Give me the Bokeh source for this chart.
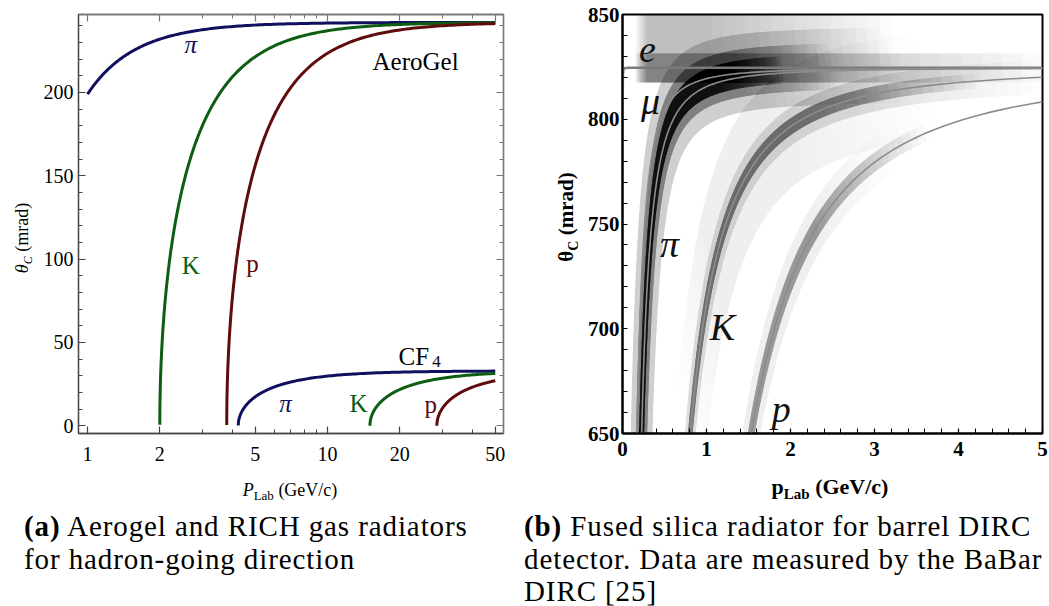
import numpy as np
from bokeh.plotting import figure
from bokeh.models import FixedTicker, LogAxis, LinearAxis, Label, Div
from bokeh.layouts import row, column
from bokeh.embed import file_html
from bokeh.resources import INLINE

# ---------------------------------------------------------------- data
# particle masses (GeV/c^2)
particles = ["e", "mu", "pi", "K", "p"]
masses = {"e": 0.000511, "mu": 0.10566, "pi": 0.13957, "K": 0.49368, "p": 0.93827}

# refractive indices of the radiators
n_aerogel = 1.030
n_cf4 = 1.00054
n_silica = 1.473

# panel (a): hadron species drawn for each radiator, start momentum (GeV/c)
aerogel_species = ["pi", "K", "p"]
aerogel_pmin = [1.0, None, None]          # None -> start at threshold
cf4_species = ["pi", "K", "p"]
p_max_a = 50.0

# panel (b): species curves and the spread of the measured photon angles
dirc_species = ["e", "mu", "pi", "K", "p"]
p_max_b = 5.0
# each band: species curve it follows, momentum span, half-width in p and in theta
# (below / above the curve), peak density of the measured points and the
# fractions of the span over which that density builds up / dies away
band_species = ["pi", "pi", "pi", "K", "K", "K", "p", "p", "e", "e"]
band_pmin = [0.20, 0.20, 0.18, 0.78, 0.75, 0.80, 1.50, 1.50, 0.15, 0.15]
band_pmax = [1.90, 2.50, 3.20, 4.20, 5.00, 3.60, 3.60, 3.20, 5.00, 3.20]
band_dp = [0.025, 0.06, 0.12, 0.02, 0.05, 0.15, 0.025, 0.07, 0.0, 0.0]
band_dth_lo = [5, 9, 16, 3.5, 8, 25, 4, 10, 7, 7]
band_dth_hi = [8, 13, 20, 3.5, 8, 25, 4, 10, 7, 26]
band_density = [0.88, 0.40, 0.16, 0.45, 0.10, 0.04, 0.30, 0.07, 0.25, 0.22]
band_fade_in = [0.0, 0.0, 0.0, 0.0, 0.0, 0.10, 0.0, 0.0, 0.03, 0.05]
band_fade_out = [0.45, 0.50, 0.55, 0.60, 0.55, 0.60, 0.65, 0.55, 0.80, 0.75]

# ---------------------------------------------------------------- helpers
def cherenkov_mrad(p, m, n):
    """Cherenkov angle from cos(theta) = 1 / (n beta), in mrad."""
    beta = p / np.sqrt(p ** 2 + m ** 2)
    c = np.clip(1.0 / (n * beta), -1.0, 1.0)
    return 1000.0 * np.arccos(c)


def threshold(m, n):
    return m / np.sqrt(n ** 2 - 1.0)


def momenta(p0, p1, num=500):
    # dense sampling next to the start so the threshold rise stays smooth
    t = np.geomspace(1e-7, 1.0, num)
    return p0 + (p1 - p0) * t


NAVY = "#10105e"
GREEN = "#0d5e12"
MAROON = "#5e0c0c"
species_color = {"pi": NAVY, "K": GREEN, "p": MAROON}
SERIF = "Liberation Serif"


def frame_axis(ax, major, minor, color, size, bold, standoff, tick_in, minor_in, show_labels=True):
    ax.ticker = FixedTicker(ticks=major, minor_ticks=minor)
    ax.axis_line_color = color
    ax.axis_line_width = 1.3
    ax.major_tick_line_color = color
    ax.minor_tick_line_color = color
    ax.major_tick_in = tick_in
    ax.major_tick_out = 0
    ax.minor_tick_in = minor_in
    ax.minor_tick_out = 0
    ax.major_tick_line_width = 1.2
    ax.minor_tick_line_width = 1.0
    ax.axis_label = None
    if show_labels:
        ax.major_label_text_font = SERIF
        ax.major_label_text_font_size = size
        ax.major_label_text_font_style = "bold" if bold else "normal"
        ax.major_label_text_color = "black"
        ax.major_label_standoff = standoff
    else:
        # tick marks only on the opposite frame edges
        ax.major_label_overrides = {t: "" for t in major}
        ax.major_label_text_font_size = "1px"
        ax.major_label_standoff = 0


# ---------------------------------------------------------------- panel (a)
pa = figure(width=480, height=478, x_axis_type="log",
            x_range=(0.917, 54.1), y_range=(-4.7, 246.7),
            output_backend="svg", toolbar_location=None,
            min_border_left=38, min_border_right=17,
            min_border_top=14, min_border_bottom=39)
pa.grid.visible = False
pa.outline_line_color = "#555555"
pa.outline_line_width = 1.3

for sp, pmin in zip(aerogel_species, aerogel_pmin):
    m = masses[sp]
    start = pmin if pmin is not None else threshold(m, n_aerogel)
    pp = momenta(start, p_max_a)
    pa.line(pp, cherenkov_mrad(pp, m, n_aerogel), line_color=species_color[sp], line_width=3)

for sp in cf4_species:
    m = masses[sp]
    pp = momenta(threshold(m, n_cf4), p_max_a)
    pa.line(pp, cherenkov_mrad(pp, m, n_cf4), line_color=species_color[sp], line_width=3)

xa_major = [1, 2, 5, 10, 20, 50]
xa_minor = [3, 4, 6, 7, 8, 9, 30, 40]
ya_major = [0, 50, 100, 150, 200]
ya_minor = [v for v in range(0, 250, 10) if v % 50]

frame_axis(pa.xaxis[0], xa_major, xa_minor, "#444444", "20px", False, 13, 7, 4)
frame_axis(pa.yaxis[0], ya_major, ya_minor, "#444444", "20px", False, 5, 7, 4)
top_ax = LogAxis()
frame_axis(top_ax, xa_major, xa_minor, "#777777", "1px", False, 0, 7, 4, show_labels=False)
pa.add_layout(top_ax, "above")
right_ax = LinearAxis()
frame_axis(right_ax, ya_major, ya_minor, "#777777", "1px", False, 0, 7, 4, show_labels=False)
pa.add_layout(right_ax, "right")

# curve annotations, panel (a)
a_labels = [
    ("π", 2.69, 228.5, NAVY, "italic", "center"),
    ("AeroGel", 15.4, 218.7, "black", "normal", "left"),
    ("K", 2.69, 96.3, GREEN, "normal", "center"),
    ("p", 4.87, 97.3, MAROON, "normal", "center"),
    ("CF", 19.77, 41.5, "black", "normal", "left"),
    ("π", 6.68, 13.4, NAVY, "italic", "center"),
    ("K", 13.46, 13.6, GREEN, "normal", "center"),
    ("p", 26.9, 12.8, MAROON, "normal", "center"),
]
for txt, x, y, col, style, align in a_labels:
    pa.add_layout(Label(x=x, y=y, text=txt, text_color=col, text_font=SERIF,
                        text_font_size="25px", text_font_style=style,
                        text_align=align, text_baseline="alphabetic"))
pa.add_layout(Label(x=27.3, y=38.5, text="4", text_color="black", text_font=SERIF,
                    text_font_size="17px", text_align="left", text_baseline="alphabetic"))

# ---------------------------------------------------------------- panel (b)
pb = figure(width=469, height=478, x_range=(0, 5), y_range=(650, 850),
            output_backend="svg", toolbar_location=None,
            min_border_left=42, min_border_right=7,
            min_border_top=13, min_border_bottom=45)
pb.grid.visible = False
pb.outline_line_color = "black"
pb.outline_line_width = 2

# measured photon angles: each band is stacked from nested layers whose ends are
# staggered, so its density rises and falls off smoothly along the momentum
N_LAYERS = 16
for sp, p0, p1, dp, lo, hi, dens, f_in, f_out in zip(
        band_species, band_pmin, band_pmax, band_dp, band_dth_lo, band_dth_hi,
        band_density, band_fade_in, band_fade_out):
    m = masses[sp]
    start = max(p0, threshold(m, n_silica) * 1.0001)
    span = p1 - start
    p_full = p1 - f_out * span
    layer_alpha = 1.0 - (1.0 - dens) ** (1.0 / N_LAYERS)
    for k in range(N_LAYERS):
        p_begin = start + f_in * span * k / N_LAYERS
        p_end = p_full + (p1 - p_full) * (k + 1) / N_LAYERS
        pp = np.linspace(p_begin, p_end, 240)
        th = cherenkov_mrad(pp, m, n_silica)
        xs = np.concatenate([pp - dp, (pp + dp)[::-1]])
        ys = np.concatenate([th + hi, (th - lo)[::-1]])
        pb.patch(xs, ys, fill_color="#141414", fill_alpha=layer_alpha, line_alpha=0)

for sp in dirc_species:
    m = masses[sp]
    pp = momenta(max(threshold(m, n_silica), 0.002), p_max_b)
    th = cherenkov_mrad(pp, m, n_silica)
    if sp == "e":
        pb.line(pp, th, line_color="#7a7a7a", line_width=2.5)
    else:
        pb.line(pp, th, line_color="#8c8c8c", line_width=1.6)

xb_major = [0, 1, 2, 3, 4, 5]
xb_minor = [round(0.2 * i, 1) for i in range(26) if i % 5]
yb_major = [650, 700, 750, 800, 850]
yb_minor = [v for v in range(650, 851, 10) if v % 50]
frame_axis(pb.xaxis[0], xb_major, xb_minor, "black", "21px", True, 8, 5, 5)
frame_axis(pb.yaxis[0], yb_major, yb_minor, "black", "21px", True, 3, 5, 5)
pb.xaxis[0].axis_line_width = 2
pb.yaxis[0].axis_line_width = 2

b_labels = [
    ("e", 0.298, 833.3),
    ("μ", 0.333, 808.7),
    ("π", 0.56, 740.5),
    ("K", 1.19, 700.9),
    ("p", 1.89, 661.9),
]
for txt, x, y in b_labels:
    pb.add_layout(Label(x=x, y=y, text=txt, text_color="#111111", text_font=SERIF,
                        text_font_size="38px", text_font_style="italic",
                        text_align="center", text_baseline="alphabetic"))

# ---------------------------------------------------------------- axis titles and captions
FONT = "font-family:'Liberation Serif',serif;color:black;"


def vtitle(width, height, cx, cy, html, size, weight):
    return Div(width=width, height=height, margin=0, text=(
        f'<div style="position:relative;width:{width}px;height:{height}px;">'
        f'<div style="position:absolute;left:{cx}px;top:{cy}px;white-space:nowrap;'
        f'{FONT}font-size:{size}px;font-weight:{weight};line-height:1;'
        f'transform:translate(-50%,-50%) rotate(-90deg);">{html}</div></div>'))


ytitle_a = vtitle(40, 478, 22, 238,
                  '<i>θ</i><span style="font-size:12px;position:relative;top:4px;"><i>C</i></span> (mrad)',
                  18, "normal")
ytitle_b = vtitle(60, 478, 46, 217,
                  'θ<span style="font-size:14px;position:relative;top:5px;">C</span> (mrad)',
                  21, "bold")


def bottom_block(width, title_cx, title_cy, title_html, title_size, title_weight,
                 cap_left, cap_top, cap_html):
    return Div(width=width, height=128, margin=0, text=(
        f'<div style="position:relative;width:{width}px;height:128px;">'
        f'<div style="position:absolute;left:{title_cx}px;top:{title_cy}px;white-space:nowrap;'
        f'{FONT}font-size:{title_size}px;font-weight:{title_weight};line-height:1;'
        f'transform:translate(-50%,-50%);">{title_html}</div>'
        f'<div style="position:absolute;left:{cap_left}px;top:{cap_top}px;white-space:nowrap;'
        f'{FONT}font-size:29px;line-height:32.5px;letter-spacing:0.9px;">{cap_html}</div>'
        f'</div>'))


xtitle_a_html = ('<i>P</i><span style="font-size:13px;position:relative;top:4px;">Lab</span>'
                 ' (GeV/c)')
xtitle_b_html = ('p<span style="font-size:15px;position:relative;top:5px;">Lab</span>'
                 ' (GeV/c)')
caption_a = "<b>(a)</b> Aerogel and RICH gas radiators<br>for hadron-going direction"
caption_b = ("<b>(b)</b> Fused silica radiator for barrel DIRC<br>"
             "detector. Data are measured by the BaBar<br>DIRC [25]")

bottom_a = bottom_block(520, 290, 12, xtitle_a_html, 18, "normal", 24, 32, caption_a)
bottom_b = bottom_block(529, 310, 9, xtitle_b_html, 22, "bold", 4, 32, caption_b)

layout = column(row(ytitle_a, pa, ytitle_b, pb, spacing=0),
                row(bottom_a, bottom_b, spacing=0), spacing=0)
open("out.html", "w").write(file_html(layout, INLINE))
